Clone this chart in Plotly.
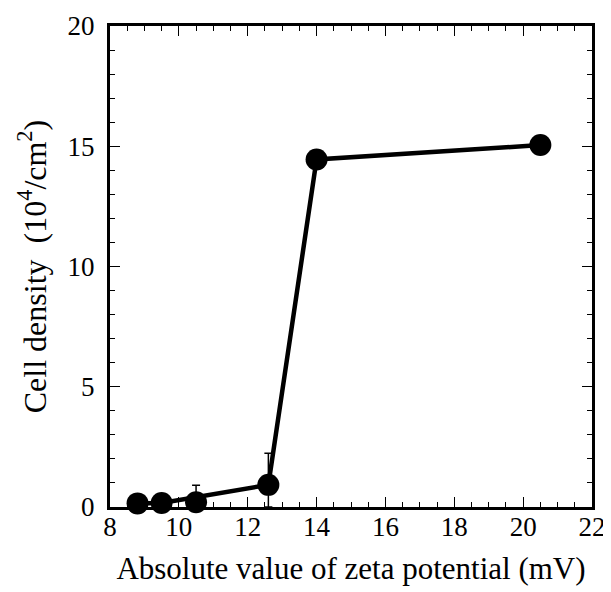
import plotly.graph_objects as go

# Data
zeta = [8.8, 9.5, 10.5, 12.6, 14.0, 20.5]
density = [0.15, 0.17, 0.2, 0.92, 14.45, 15.05]
err_up = [0.0, 0.0, 0.7, 1.32, 0.0, 0.0]
line_idx = [0, 1, 3, 4, 5]  # points joined by the connecting line

x_ticks = [8, 10, 12, 14, 16, 18, 20, 22]
y_ticks = [0, 5, 10, 15, 20]

FONT = "Liberation Serif"

fig = go.Figure()

# error bars (clipped to the plot area)
fig.add_trace(go.Scatter(
    x=zeta, y=density, mode="markers",
    marker=dict(size=1, color="rgba(0,0,0,0)"),
    error_y=dict(type="data", array=err_up,
                 arrayminus=[min(e, v) for e, v in zip(err_up, density)],
                 color="black", thickness=1.5, width=4),
    cliponaxis=True, showlegend=False, hoverinfo="skip"))

# connecting line
fig.add_trace(go.Scatter(
    x=[zeta[i] for i in line_idx], y=[density[i] for i in line_idx],
    mode="lines", line=dict(color="black", width=4.5),
    cliponaxis=False, showlegend=False))

# markers
fig.add_trace(go.Scatter(
    x=zeta, y=density, mode="markers",
    marker=dict(size=22, color="black", symbol="circle"),
    cliponaxis=False, showlegend=False))

axis_common = dict(
    showline=True, linecolor="black", linewidth=3, mirror="allticks",
    ticks="inside", ticklen=10, tickwidth=1, tickcolor="black",
    showgrid=False, zeroline=False, automargin=False,
    tickfont=dict(family=FONT, size=27, color="black"),
)

fig.update_xaxes(
    range=[8, 22], tickvals=x_ticks, ticktext=[str(v) for v in x_ticks],
    minor=dict(dtick=0.5, tick0=8, ticks="inside", ticklen=5, tickwidth=1, tickcolor="black"),
    ticklabelstandoff=-6,
    title=dict(text="Absolute value of zeta potential (mV)",
               font=dict(family=FONT, size=31, color="black"), standoff=16),
    **axis_common)
fig.update_yaxes(
    range=[0, 20], tickvals=y_ticks, ticktext=[str(v) for v in y_ticks],
    minor=dict(dtick=1, tick0=0, ticks="inside", ticklen=5, tickwidth=1, tickcolor="black"),
    ticklabelstandoff=7,
    title=dict(text="Cell density  (10<sup>4</sup>/cm<sup>2</sup>)",
               font=dict(family=FONT, size=32, color="black"), standoff=12),
    **axis_common)

fig.update_layout(
    width=603, height=584,
    margin=dict(l=102, r=19, t=18, b=85),
    paper_bgcolor="white", plot_bgcolor="white",
    font=dict(family=FONT, color="black"),
)

fig.write_html("out.html")
